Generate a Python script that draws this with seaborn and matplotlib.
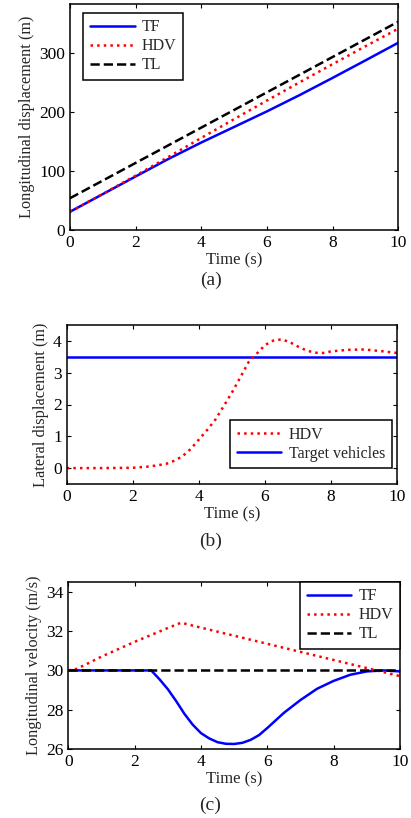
import numpy as np
import pandas as pd
import matplotlib
matplotlib.use("Agg")
import matplotlib.pyplot as plt
import seaborn as sns

# ---------------- data ----------------
# (a) longitudinal displacement (m)
t_disp = [0, 1, 2, 3, 4, 5, 6, 7, 8, 9, 10]
disp_tf = [31, 61, 91, 120.8, 148.7, 175.1, 201.6, 229.4, 258.5, 288.2, 318.2]
disp_hdv = [31, 61.4, 92.4, 124.2, 156.5, 188.4, 220, 251.1, 281.8, 312.2, 342.1]
disp_tl = [54, 84, 114, 144, 174, 204, 234, 264, 294, 324, 354]

# (b) lateral displacement (m)
t_lat = [0, 1, 2, 2.5, 3, 3.25, 3.5, 3.75, 4, 4.25, 4.5, 4.75, 5, 5.25, 5.5,
         5.75, 6, 6.25, 6.5, 6.75, 7, 7.25, 7.5, 7.75, 8, 8.5, 9, 9.5, 10]
lat_hdv = [0, 0, 0.01, 0.05, 0.13, 0.23, 0.37, 0.6, 0.9, 1.2, 1.53, 1.95, 2.38,
           2.85, 3.33, 3.6, 3.87, 4.01, 4.05, 3.96, 3.82, 3.7, 3.63, 3.62,
           3.67, 3.72, 3.73, 3.68, 3.62]
t_target = [0, 10]
lat_target = [3.5, 3.5]

# (c) longitudinal velocity (m/s)
t_vel_tf = [0, 2.5, 2.75, 3.0, 3.25, 3.5, 3.75, 4.0, 4.25, 4.5, 4.75, 5.0,
            5.25, 5.5, 5.75, 6.0, 6.5, 7.0, 7.5, 8.0, 8.5, 9.0, 9.5, 10]
vel_tf = [30, 30, 29.55, 29.05, 28.45, 27.8, 27.25, 26.82, 26.55, 26.36, 26.28,
          26.27, 26.33, 26.48, 26.72, 27.08, 27.85, 28.5, 29.07, 29.47, 29.78,
          29.95, 30.0, 29.95]
t_vel_hdv = [0, 0.25, 0.5, 1, 2, 3, 3.4, 4, 5, 6, 7, 8, 9, 10]
vel_hdv = [30, 30.08, 30.28, 30.7, 31.45, 32.15, 32.42, 32.17, 31.76, 31.35,
           30.94, 30.53, 30.12, 29.71]
t_vel_tl = [0, 10]
vel_tl = [30, 30]

x_ticks = [0, 2, 4, 6, 8, 10]

# ---------------- style ----------------
sns.set_style("ticks")
plt.rcParams["font.family"] = ["Liberation Serif", "DejaVu Serif"]

W, H = 411, 818
fig = plt.figure(figsize=(W / 100, H / 100), dpi=100)
fig.patch.set_facecolor("white")


def px_axes(left, top, right, bottom):
    return fig.add_axes([left / W, 1 - bottom / H, (right - left) / W,
                         (bottom - top) / H])


def style_axes(ax, yticks, ylim, ylabel):
    ax.set_xlim(0, 10)
    ax.set_ylim(*ylim)
    ax.set_xticks(x_ticks)
    ax.set_yticks(yticks)
    ax.tick_params(direction="in", length=3, width=0.8, top=True, right=True,
                   labelsize=12.5, pad=3.5, colors="black")
    for s in ax.spines.values():
        s.set_linewidth(1.1)
        s.set_color("black")
    ax.set_xlabel("Time (s)", fontsize=12, labelpad=1)
    ax.set_ylabel(ylabel, fontsize=11.7, labelpad=3)
    ax.set_facecolor("white")


def draw(ax, x, y, color, ls, label):
    df = pd.DataFrame({"t": x, "v": y})
    sns.lineplot(data=df, x="t", y="v", ax=ax, color=color, linestyle=ls,
                 linewidth=1.8, label=label, estimator=None, sort=False)


def legend(ax, order, **kw):
    handles, labels = ax.get_legend_handles_labels()
    lut = dict(zip(labels, handles))
    leg = ax.legend([lut[k] for k in order], order, fontsize=11.5,
                    fancybox=False, framealpha=1, edgecolor="black",
                    handlelength=2.8, handletextpad=0.45, borderpad=0.42,
                    labelspacing=0.18, **kw)
    leg.get_frame().set_linewidth(1.1)
    return leg


# (a)
ax1 = px_axes(70, 4, 398.3, 230)
draw(ax1, t_disp, disp_tf, "#0000ff", "-", "TF")
draw(ax1, t_disp, disp_hdv, "#ff0000", ":", "HDV")
draw(ax1, t_disp, disp_tl, "black", "--", "TL")
style_axes(ax1, [0, 100, 200, 300], (0, 384), "Longitudinal displacement (m)")
legend(ax1, ["TF", "HDV", "TL"], loc="upper left",
       bbox_to_anchor=(13.3 / 328.3, 1 - 8.7 / 226), borderaxespad=0)

# (b)
ax2 = px_axes(66.7, 325, 397.3, 484)
draw(ax2, t_target, lat_target, "#0000ff", "-", "Target vehicles")
draw(ax2, t_lat, lat_hdv, "#ff0000", ":", "HDV")
style_axes(ax2, [0, 1, 2, 3, 4], (-0.5, 4.5), "Lateral displacement (m)")
legend(ax2, ["HDV", "Target vehicles"], loc="lower right",
       bbox_to_anchor=(1 - 5.6 / 330.6, 15.7 / 159), borderaxespad=0)

# (c)
ax3 = px_axes(68.3, 581.7, 400, 749.3)
draw(ax3, t_vel_tf, vel_tf, "#0000ff", "-", "TF")
draw(ax3, t_vel_hdv, vel_hdv, "#ff0000", ":", "HDV")
draw(ax3, t_vel_tl, vel_tl, "black", "--", "TL")
style_axes(ax3, [26, 28, 30, 32, 34], (26, 34.5), "Longitudinal velocity (m/s)")
legend(ax3, ["TF", "HDV", "TL"], loc="upper right",
       bbox_to_anchor=(1, 1), borderaxespad=0)

# captions
for txt, yc in [("(a)", 280), ("(b)", 541.7), ("(c)", 805)]:
    fig.text(210.5 / W, 1 - yc / H, txt, ha="center", va="center",
             fontsize=14)

fig.savefig("out.png", dpi=100, facecolor="white")
